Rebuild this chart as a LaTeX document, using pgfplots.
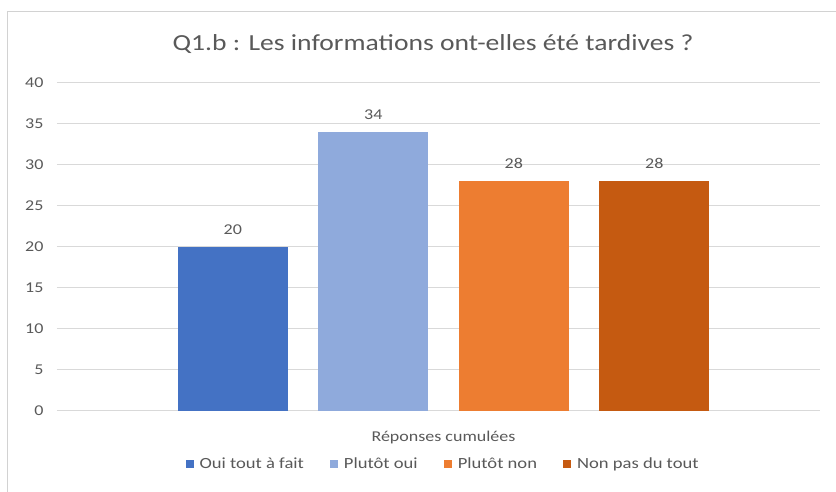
\documentclass[border=0pt]{standalone}
\usepackage{fontspec}
\setmainfont{Carlito}[FakeStretch=1.2]
\usepackage{pgfplots}
\pgfplotsset{compat=1.18}
\definecolor{c1}{RGB}{68,114,196}
\definecolor{c2}{RGB}{143,170,220}
\definecolor{c3}{RGB}{237,125,49}
\definecolor{c4}{RGB}{197,90,17}
\definecolor{txt}{RGB}{89,89,89}
\definecolor{gridc}{RGB}{217,217,217}
\definecolor{framec}{RGB}{210,210,210}
\begin{document}
\begin{tikzpicture}[x=1pt,y=1pt]
\useasboundingbox (0,0) rectangle (836,492);
\draw[framec, line width=1pt] (7.5,0) -- (7.5,480.5) -- (836,480.5);
\node[txt, font=\fontsize{23}{27}\selectfont] at (433,448) {Q1.b : Les informations ont-elles été tardives ?};
\begin{axis}[
    at={(57pt,81pt)}, anchor=south west,
    scale only axis, width=763pt, height=328pt,
    xmin=-386.5, xmax=376.5, ymin=0, ymax=40,
    ytick={0,5,...,40},
    ymajorgrids, grid style={gridc, line width=1pt},
    axis line style={draw=none}, tick style={draw=none},
    xtick={0}, xticklabels={Réponses cumulées},
    ybar, bar width=110pt,
    yticklabel style={txt, font=\fontsize{15}{18}\selectfont, xshift=-10pt},
    xticklabel style={txt, font=\fontsize{15}{18}\selectfont, yshift=-12pt},
    /pgf/number format/assume math mode=true,
    nodes near coords,
    nodes near coords style={txt, font=\fontsize{15}{18}\selectfont, yshift=9pt},
    legend style={at={(0.506,-0.1616)}, anchor=center, draw=none,
        legend columns=4, font=\fontsize{15.5}{18}\selectfont, text=txt,
        /tikz/every odd column/.append style={column sep=4pt},
        /tikz/every even column/.append style={column sep=24pt}},
    legend image code/.code={\fill[#1] (0pt,-4pt) rectangle (8pt,4pt);},
]
\addplot[fill=c1, draw=none, bar shift=-210.75pt] coordinates {(0,20)};
\addlegendentry{Oui tout à fait}
\addplot[fill=c2, draw=none, bar shift=-70.25pt] coordinates {(0,34)};
\addlegendentry{Plutôt oui}
\addplot[fill=c3, draw=none, bar shift=70.25pt] coordinates {(0,28)};
\addlegendentry{Plutôt non}
\addplot[fill=c4, draw=none, bar shift=210.75pt] coordinates {(0,28)};
\addlegendentry{Non pas du tout}
\end{axis}
\end{tikzpicture}
\end{document}
